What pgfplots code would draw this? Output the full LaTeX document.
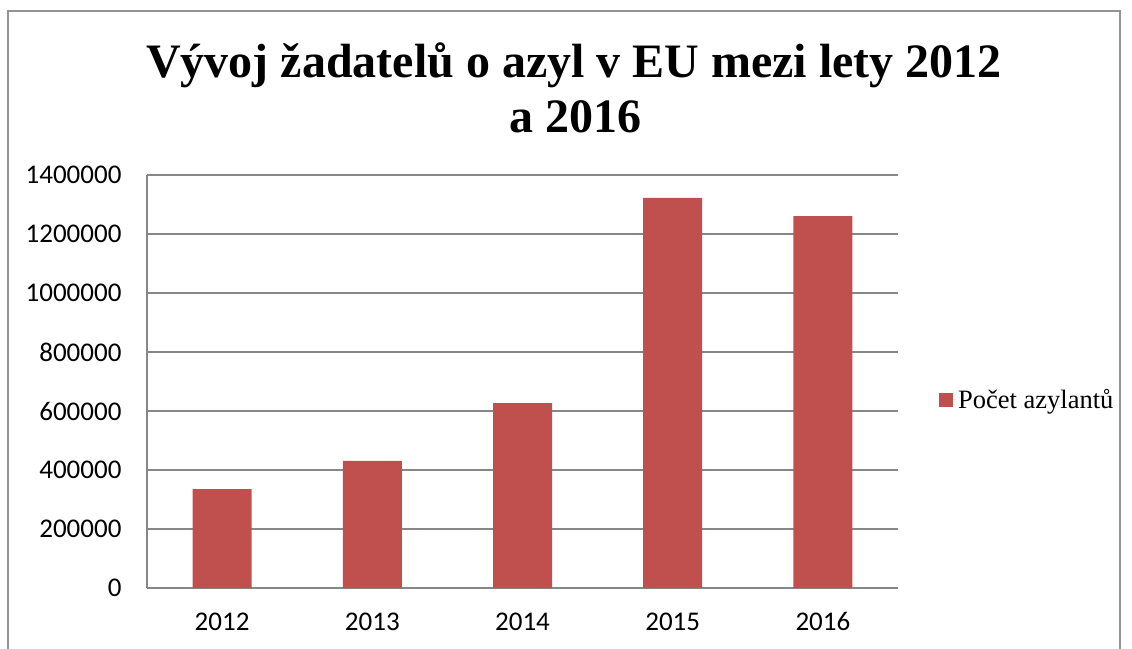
\documentclass[border=0pt]{standalone}
\usepackage{pgfplots}
\pgfplotsset{compat=1.18}
\usepackage{fontspec}
\setmainfont{Liberation Serif}
\newfontfamily\carlito{Carlito}
\definecolor{barred}{HTML}{C0504D}
\definecolor{gridgray}{HTML}{878787}
\begin{document}
\begin{tikzpicture}
\useasboundingbox (0pt,0pt) rectangle (1132pt,-648pt);
\begin{scope}
\clip (0pt,0pt) rectangle (1132pt,-648pt);
\draw[gridgray!90, line width=1.6pt] (8pt,-11pt) rectangle (1120pt,-700pt);
\end{scope}
\node[anchor=base, font=\fontsize{48}{55}\selectfont\bfseries, inner sep=0pt] at (574pt,-77pt) {Vývoj žadatelů o azyl v EU mezi lety 2012};
\node[anchor=base, font=\fontsize{48}{55}\selectfont\bfseries, inner sep=0pt] at (575pt,-132pt) {a 2016};
\begin{axis}[
  at={(147pt,-588pt)}, anchor=south west,
  scale only axis, width=751pt, height=413pt,
  ybar, bar width=59pt,
  xmin=-0.5, xmax=4.5, ymin=0, ymax=1400000,
  xtick={0,1,2,3,4}, xticklabels={2012,2013,2014,2015,2016},
  ytick={0,200000,400000,600000,800000,1000000,1200000,1400000},
  scaled y ticks=false,
  axis x line=bottom, axis y line=left,
  axis line style={-, gridgray, line width=1.3pt},
  ymajorgrids, grid style={gridgray, line width=1.3pt},
  major tick length=0pt,
  /pgf/number format/assume math mode=true,
  tick label style={font=\carlito\fontsize{27}{30}\selectfont},
  yticklabel style={/pgf/number format/fixed, /pgf/number format/1000 sep={}, xshift=-22pt},
  xticklabel style={anchor=base, yshift=-42pt},
  legend style={at={(1,0.5)}, anchor=west, xshift=41pt, yshift=-18pt, draw=none, fill=none,
    font=\fontsize{26.5}{30}\selectfont, inner sep=0pt},
  legend image code/.code={\fill[barred] (0pt,-7pt) rectangle (14pt,7pt); \path (0pt,0pt) -- (17pt,0pt);},
]
\addplot[draw=none, fill=barred] coordinates {(0,335290) (1,431090) (2,626960) (3,1322825) (4,1260910)};
\legend{Počet azylantů}
\end{axis}
\end{tikzpicture}
\end{document}
